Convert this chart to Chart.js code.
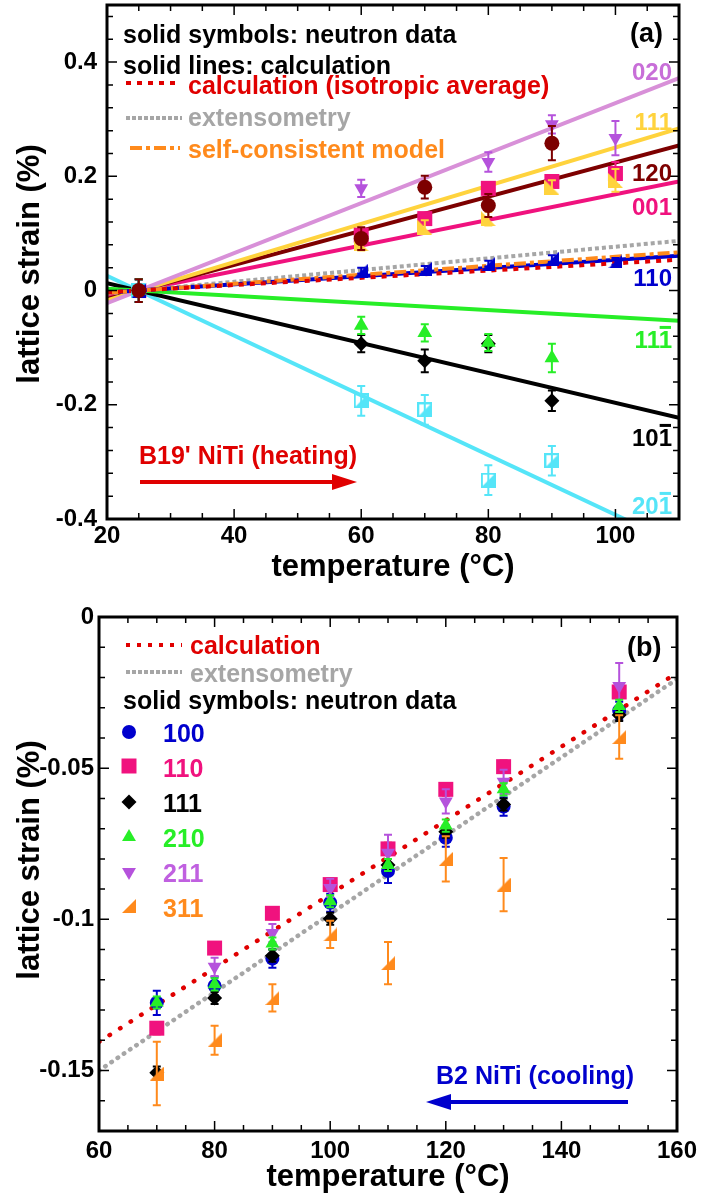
<!DOCTYPE html>
<html>
<head>
<meta charset="utf-8">
<title>NiTi lattice strain vs temperature</title>
<script src="https://cdn.jsdelivr.net/npm/chart.js@4.4.1/dist/chart.umd.min.js"></script>
<style>
  body { margin: 0; background: #fff; }
  canvas { display: block; }
</style>
</head>
<body>
<canvas id="heating-chart" width="701" height="590"></canvas>
<canvas id="cooling-chart" width="701" height="611"></canvas>
<script>
const FONT = '"Liberation Sans", Arial, Helvetica, sans-serif';

// ---------- (a) B19' NiTi, heating ----------
const tempA = [25, 60, 70, 80, 90, 100];
const fitTempA = [20, 110];
const tickXA = [20, 40, 60, 80, 100];
const tickYA = [-0.4, -0.2, 0, 0.2, 0.4];

// neutron data (strain %) and error bars, per reflection
const a020 = [0, 0.179, null, 0.225, 0.291, 0.267];
const a020err = [0.02, 0.015, null, 0.017, 0.016, 0.03];
const a111 = [0, 0.082, 0.111, 0.126, 0.181, 0.193];
const a111err = [0.02, 0.012, 0.012, 0.012, 0.012, 0.02];
const a120 = [0, 0.091, 0.181, 0.149, 0.258, null];
const a120err = [0.02, 0.02, 0.02, 0.02, 0.03, null];
const a001 = [0, 0.097, 0.126, 0.179, 0.191, 0.205];
const a001err = [0.02, 0.01, 0.01, 0.01, 0.01, 0.02];
const a110 = [0, 0.035, 0.038, 0.047, 0.056, 0.051];
const a110err = [0.02, 0.005, 0.005, 0.005, 0.006, 0.006];
const a11m = [0, -0.061, -0.074, -0.091, -0.118, null];
const a11merr = [0.02, 0.015, 0.015, 0.015, 0.025, null];
const a10m = [0, -0.093, -0.123, -0.093, -0.193, null];
const a10merr = [0.02, 0.015, 0.02, 0.015, 0.018, null];
const a20m = [0, -0.193, -0.209, -0.332, -0.298, null];
const a20merr = [0.02, 0.026, 0.026, 0.026, 0.026, null];

// calculated strains at 20 and 110 °C
const fit020 = [-0.022, 0.372];
const fit111 = [-0.017, 0.284];
const fit120 = [-0.015, 0.254];
const fit001 = [-0.011, 0.191];
const fit110 = [-0.0035, 0.061];
const fit11m = [0.003, -0.053];
const fit10m = [0.013, -0.223];
const fit20m = [0.026, -0.445];
const fitIso = [-0.003, 0.054];
const fitExtA = [-0.005, 0.087];
const fitSelf = [-0.004, 0.067];

// ---------- (b) B2 NiTi, cooling ----------
const tempB = [70, 80, 90, 100, 110, 120, 130, 150];
const fitTempB = [60, 160];
const tickXB = [60, 80, 100, 120, 140, 160];
const tickYB = [-0.15, -0.1, -0.05, 0];

const b100 = [-0.1276, -0.122, -0.113, -0.0945, -0.084, -0.073, -0.0627, -0.031];
const b100err = [0.004, 0.003, 0.003, 0.003, 0.004, 0.003, 0.003, 0.003];
const b110 = [-0.136, -0.1095, -0.098, -0.0885, -0.0767, -0.057, -0.0495, -0.0248];
const b110err = [0.002, 0.002, 0.002, 0.002, 0.002, 0.002, 0.002, 0.002];
const b111 = [-0.1507, -0.126, -0.112, -0.0998, -0.082, -0.071, -0.062, -0.0324];
const b111err = [0.002, 0.002, 0.002, 0.002, 0.002, 0.002, 0.002, 0.002];
const b210 = [-0.1275, -0.1215, -0.108, -0.094, -0.082, -0.069, -0.057, -0.0294];
const b210err = [0.002, 0.002, 0.002, 0.002, 0.002, 0.002, 0.002, 0.002];
const b211 = [null, -0.1157, -0.1045, -0.0896, -0.078, -0.061, -0.0545, -0.0228];
const b211err = [null, 0.003, 0.003, 0.003, 0.006, 0.004, 0.004, 0.0076];
const b311 = [-0.151, -0.140, -0.126, -0.105, -0.1145, -0.080, -0.0885, -0.0397];
const b311err = [0.0105, 0.0048, 0.0045, 0.0045, 0.007, 0.0075, 0.0088, 0.0072];

const fitCalcB = [-0.1405, -0.0185];
const fitExtB = [-0.150, -0.0205];

// ---------- colours ----------
const VIOLET = '#B552DC', PLUM = '#D890D8', GOLD = '#FFD33D', MAROON = '#7D0000';
const PINK = '#F0127E', BLUE = '#0000CD', GREEN = '#27EE27', CYAN = '#55E5F8';
const RED = '#E00000', GREY = '#A6A6A6', ORANGE = '#FF8A1C';

// half-filled markers drawn onto small canvases
function marker(kind, color, size) {
  const c = document.createElement('canvas');
  c.width = c.height = size;
  const g = c.getContext('2d');
  g.fillStyle = color;
  g.strokeStyle = color;
  g.beginPath();
  if (kind === 'wedgeLeft') {        // right angle bottom-left
    g.moveTo(0, 0); g.lineTo(0, size); g.lineTo(size, size);
  } else if (kind === 'wedgeRight') { // right angle bottom-right
    g.moveTo(size, 0); g.lineTo(size, size); g.lineTo(0, size);
  } else {                            // open square, lower-right half filled
    g.lineWidth = 2;
    g.strokeRect(1, 1, size - 2, size - 2);
    g.moveTo(size - 1, 1); g.lineTo(size - 1, size - 1); g.lineTo(1, size - 1);
  }
  g.closePath();
  g.fill();
  return c;
}

const ptsOf = (temps, ys, errs) => temps
  .map((t, i) => ({ x: t, y: ys[i], e: errs ? errs[i] : 0 }))
  .filter(p => p.y !== null);

function points(label, temps, ys, errs, style, color, radius, extra) {
  return Object.assign({
    label, data: ptsOf(temps, ys, errs),
    pointStyle: style, pointRadius: radius, pointHoverRadius: radius,
    backgroundColor: color, borderColor: color, pointBorderWidth: 0,
    errColor: color, order: 1
  }, extra);
}

function fitLine(label, temps, ys, color, width, dash, extra) {
  return Object.assign({
    label, showLine: true,
    data: temps.map((t, i) => ({ x: t, y: ys[i] })),
    borderColor: color, borderWidth: width, borderDash: dash || [],
    pointRadius: 0, order: 20
  }, extra);
}

// vertical error bars, drawn just under each dataset's own markers
const errorBars = {
  id: 'errorBars',
  beforeDatasetDraw(chart, args) {
    const ds = chart.data.datasets[args.index];
    if (!ds.errColor) return;
    const { ctx, scales: { y } } = chart;
    ctx.save();
    ctx.strokeStyle = ds.errColor;
    ctx.lineWidth = 2;
    ctx.beginPath();
    args.meta.data.forEach((pt, i) => {
      const d = ds.data[i];
      if (!d.e) return;
      const top = y.getPixelForValue(d.y + d.e);
      const bot = y.getPixelForValue(d.y - d.e);
      ctx.moveTo(pt.x, top); ctx.lineTo(pt.x, bot);
      ctx.moveTo(pt.x - 4, top); ctx.lineTo(pt.x + 4, top);
      ctx.moveTo(pt.x - 4, bot); ctx.lineTo(pt.x + 4, bot);
    });
    ctx.stroke();
    ctx.restore();
  }
};

// box frame with inward major/minor ticks on all four sides
const frame = {
  id: 'frame',
  afterDatasetsDraw(chart, args, o) {
    const { ctx, chartArea: a, scales: { x, y } } = chart;
    const isMajor = (v, step) => Math.abs(v / step - Math.round(v / step)) < 1e-6;
    ctx.save();
    ctx.strokeStyle = '#000';
    ctx.lineWidth = 1.5;
    ctx.beginPath();
    const nx = Math.round((x.max - x.min) / o.xMinor);
    for (let i = 0; i <= nx; i++) {
      const v = x.min + i * o.xMinor;
      const px = x.getPixelForValue(v);
      const len = isMajor(v, o.xMajor) ? 10 : 6;
      ctx.moveTo(px, a.bottom); ctx.lineTo(px, a.bottom - len);
      ctx.moveTo(px, a.top); ctx.lineTo(px, a.top + len);
    }
    const ny = Math.round((y.max - y.min) / o.yMinor);
    for (let i = 0; i <= ny; i++) {
      const v = y.min + i * o.yMinor;
      const py = y.getPixelForValue(v);
      const len = isMajor(v, o.yMajor) ? 10 : 6;
      ctx.moveTo(a.left, py); ctx.lineTo(a.left + len, py);
      ctx.moveTo(a.right, py); ctx.lineTo(a.right - len, py);
    }
    ctx.stroke();
    ctx.lineWidth = 3;
    ctx.strokeRect(a.left, a.top, a.right - a.left, a.bottom - a.top);
    ctx.restore();
  }
};

// titles, in-plot legends, reflection labels and arrows
const decor = {
  id: 'decor',
  afterDraw(chart, args, o) {
    const ctx = chart.ctx;
    ctx.save();
    ctx.textBaseline = 'alphabetic';
    (o.samples || []).forEach(s => {
      ctx.strokeStyle = s.color;
      ctx.lineWidth = s.width;
      ctx.lineCap = 'butt';
      ctx.setLineDash(s.dash);
      ctx.beginPath();
      ctx.moveTo(s.x0, s.y); ctx.lineTo(s.x1, s.y);
      ctx.stroke();
    });
    ctx.setLineDash([]);
    (o.markers || []).forEach(m => {
      ctx.fillStyle = m.color;
      Chart.helpers.drawPoint(ctx, {
        pointStyle: m.style, radius: m.radius, rotation: m.rotation || 0, borderWidth: 0
      }, m.x, m.y);
    });
    (o.texts || []).forEach(t => {
      ctx.font = `bold ${t.size}px ${FONT}`;
      ctx.fillStyle = t.color || '#000';
      ctx.textAlign = t.align || 'left';
      if (t.rotate) {
        ctx.save();
        ctx.translate(t.x, t.y);
        ctx.rotate(-Math.PI / 2);
        ctx.fillText(t.text, 0, 0);
        ctx.restore();
        return;
      }
      ctx.fillText(t.text, t.x, t.y);
      if (t.bar) {
        // overline on the last index
        const full = ctx.measureText(t.text).width;
        const last = ctx.measureText(t.text.slice(-1)).width;
        const right = t.align === 'right' ? t.x : t.x + full;
        ctx.fillRect(right - last + 1, t.y - t.size * 0.92, last - 2, 3);
      }
    });
    (o.arrows || []).forEach(r => {
      const dir = Math.sign(r.x1 - r.x0);
      ctx.strokeStyle = ctx.fillStyle = r.color;
      ctx.lineWidth = 4;
      ctx.beginPath();
      ctx.moveTo(r.x0, r.y); ctx.lineTo(r.x1 - dir * 20, r.y);
      ctx.stroke();
      ctx.beginPath();
      ctx.moveTo(r.x1, r.y);
      ctx.lineTo(r.x1 - dir * 25, r.y - 8);
      ctx.lineTo(r.x1 - dir * 25, r.y + 8);
      ctx.closePath();
      ctx.fill();
    });
    ctx.restore();
  }
};

const tickFont = { family: FONT, size: 24, weight: 'bold' };

function axes(d) {
  return {
    x: {
      type: 'linear', min: d.xMin, max: d.xMax,
      grid: { display: false, drawTicks: false }, border: { display: false },
      afterBuildTicks: s => { s.ticks = d.xTicks.map(v => ({ value: v })); },
      afterFit: s => { s.height = d.xh; s.paddingLeft = s.paddingRight = 0; },
      ticks: { padding: d.xPad, color: '#000', font: tickFont, maxRotation: 0, autoSkip: false,
               callback: v => String(v) }
    },
    y: {
      type: 'linear', min: d.yMin, max: d.yMax,
      grid: { display: false, drawTicks: false }, border: { display: false },
      afterBuildTicks: s => { s.ticks = d.yTicks.map(v => ({ value: v })); },
      afterFit: s => { s.width = d.yw; s.paddingTop = s.paddingBottom = 0; },
      ticks: { padding: d.yPad, color: '#000', font: tickFont, autoSkip: false,
               callback: v => String(v) }
    }
  };
}

// ---------- chart (a) ----------
new Chart(document.getElementById('heating-chart'), {
  type: 'scatter',
  data: {
    datasets: [
      fitLine('020 calc', fitTempA, fit020, PLUM, 4),
      fitLine('111 calc', fitTempA, fit111, GOLD, 4),
      fitLine('120 calc', fitTempA, fit120, MAROON, 4),
      fitLine('001 calc', fitTempA, fit001, PINK, 4),
      fitLine('11-1 calc', fitTempA, fit11m, GREEN, 4),
      fitLine('10-1 calc', fitTempA, fit10m, '#000', 4),
      fitLine('20-1 calc', fitTempA, fit20m, CYAN, 4),
      fitLine('extensometry', fitTempA, fitExtA, GREY, 4, [4, 3], { order: 15 }),
      fitLine('110 calc', fitTempA, fit110, BLUE, 4, [], { order: 14 }),
      fitLine('self-consistent model', fitTempA, fitSelf, ORANGE, 4, [12, 4, 4, 4], { order: 13 }),
      fitLine('calculation (isotropic average)', fitTempA, fitIso, RED, 4, [5, 6], { order: 12 }),
      points('001', tempA, a001, a001err, 'rect', PINK, 10.6, { order: 6 }),
      points('111', tempA, a111, a111err, marker('wedgeLeft', GOLD, 15), GOLD, 8, { order: 5 }),
      points('020', tempA, a020, a020err, 'triangle', VIOLET, 8, { order: 4, pointRotation: 180 }),
      points('110', tempA, a110, a110err, marker('wedgeRight', BLUE, 14), BLUE, 8, { order: 3 }),
      points('10-1', tempA, a10m, a10merr, 'rectRot', '#000', 7.5, { order: 3 }),
      points('20-1', tempA, a20m, a20merr, marker('halfSquare', CYAN, 15), CYAN, 8, { order: 3 }),
      points('11-1', tempA, a11m, a11merr, 'triangle', GREEN, 8.5, { order: 2 }),
      points('120', tempA, a120, a120err, 'circle', MAROON, 7.5, { order: 0 })
    ]
  },
  options: {
    responsive: false,
    animation: false,
    events: [],
    layout: { autoPadding: false, padding: { top: 5, right: 22, left: 0, bottom: 0 } },
    scales: axes({ xMin: 20, xMax: 110, xTicks: tickXA, xh: 71, xPad: 3,
                   yMin: -0.4, yMax: 0.5, yTicks: tickYA, yw: 107, yPad: 10 }),
    plugins: {
      legend: { display: false },
      tooltip: { enabled: false },
      frame: { xMinor: 5, xMajor: 20, yMinor: 0.04, yMajor: 0.2 },
      decor: {
        samples: [
          { x0: 126, x1: 180, y: 83, color: RED, width: 4, dash: [5, 6] },
          { x0: 126, x1: 182, y: 118, color: GREY, width: 4, dash: [4, 2] },
          { x0: 130, x1: 180, y: 148, color: ORANGE, width: 4, dash: [12, 4, 4, 4] }
        ],
        texts: [
          { text: 'solid symbols: neutron data', x: 123, y: 43, size: 25 },
          { text: 'solid lines: calculation', x: 123, y: 74, size: 25 },
          { text: 'calculation (isotropic average)', x: 188, y: 94, size: 25, color: RED },
          { text: 'extensometry', x: 188, y: 126, size: 25, color: GREY },
          { text: 'self-consistent model', x: 188, y: 158, size: 25, color: ORANGE },
          { text: '(a)', x: 630, y: 42, size: 27 },
          { text: '020', x: 672, y: 80, size: 24, align: 'right', color: '#C86ED8' },
          { text: '111', x: 672, y: 130, size: 24, align: 'right', color: GOLD },
          { text: '120', x: 672, y: 181, size: 24, align: 'right', color: MAROON },
          { text: '001', x: 672, y: 215, size: 24, align: 'right', color: PINK },
          { text: '110', x: 672, y: 286, size: 24, align: 'right', color: BLUE },
          { text: '111', x: 672, y: 348, size: 24, align: 'right', color: GREEN, bar: true },
          { text: '101', x: 672, y: 446, size: 24, align: 'right', color: '#000', bar: true },
          { text: '201', x: 672, y: 514, size: 24, align: 'right', color: CYAN, bar: true },
          { text: "B19' NiTi (heating)", x: 139, y: 464, size: 25, color: RED },
          { text: 'temperature (°C)', x: 393, y: 576, size: 31, align: 'center' },
          { text: 'lattice strain (%)', x: 39, y: 264, size: 31, align: 'center', rotate: true }
        ],
        arrows: [{ x0: 140, x1: 357, y: 482, color: RED }]
      }
    }
  },
  plugins: [errorBars, frame, decor]
});

// ---------- chart (b) ----------
const wedge311 = marker('wedgeRight', ORANGE, 14);

new Chart(document.getElementById('cooling-chart'), {
  type: 'scatter',
  data: {
    datasets: [
      fitLine('calculation', fitTempB, fitCalcB, RED, 4.5, [0.5, 12], { borderCapStyle: 'round' }),
      fitLine('extensometry', fitTempB, fitExtB, GREY, 4.5, [0.5, 7], { borderCapStyle: 'round' }),
      points('100', tempB, b100, b100err, 'circle', BLUE, 7, { order: 6 }),
      points('110', tempB, b110, b110err, 'rect', PINK, 10.6, { order: 5, errColor: RED }),
      points('111', tempB, b111, b111err, 'rectRot', '#000', 7.5, { order: 4 }),
      points('211', tempB, b211, b211err, 'triangle', VIOLET, 8, { order: 3, pointRotation: 180 }),
      points('210', tempB, b210, b210err, 'triangle', GREEN, 8, { order: 2 }),
      points('311', tempB, b311, b311err, wedge311, ORANGE, 8, { order: 1 })
    ]
  },
  options: {
    responsive: false,
    animation: false,
    events: [],
    layout: { autoPadding: false, padding: { top: 27, right: 24, left: 0, bottom: 0 } },
    scales: axes({ xMin: 60, xMax: 160, xTicks: tickXB, xh: 70, xPad: 6,
                   yMin: -0.17, yMax: 0, yTicks: tickYB, yw: 99, yPad: 5 }),
    plugins: {
      legend: { display: false },
      tooltip: { enabled: false },
      frame: { xMinor: 5, xMajor: 20, yMinor: 0.01, yMajor: 0.05 },
      decor: {
        samples: [
          { x0: 126, x1: 182, y: 55, color: RED, width: 4, dash: [4, 7] },
          { x0: 126, x1: 182, y: 82, color: GREY, width: 4, dash: [4, 2] }
        ],
        markers: [
          { x: 129, y: 142, style: 'circle', radius: 7, color: BLUE },
          { x: 129, y: 176, style: 'rect', radius: 10.6, color: PINK },
          { x: 129, y: 212, style: 'rectRot', radius: 7.5, color: '#000' },
          { x: 129, y: 247, style: 'triangle', radius: 8, color: GREEN },
          { x: 129, y: 282, style: 'triangle', radius: 8, rotation: 180, color: VIOLET },
          { x: 129, y: 316, style: wedge311, radius: 8, color: ORANGE }
        ],
        texts: [
          { text: 'calculation', x: 190, y: 64, size: 25, color: RED },
          { text: 'extensometry', x: 190, y: 92, size: 25, color: GREY },
          { text: 'solid symbols: neutron data', x: 123, y: 119, size: 25 },
          { text: '100', x: 163, y: 152, size: 25, color: BLUE },
          { text: '110', x: 163, y: 187, size: 25, color: PINK },
          { text: '111', x: 163, y: 222, size: 25, color: '#000' },
          { text: '210', x: 163, y: 257, size: 25, color: GREEN },
          { text: '211', x: 163, y: 292, size: 25, color: '#C060E0' },
          { text: '311', x: 163, y: 327, size: 25, color: ORANGE },
          { text: '(b)', x: 627, y: 66, size: 27 },
          { text: 'B2 NiTi (cooling)', x: 436, y: 494, size: 25, color: BLUE },
          { text: 'temperature (°C)', x: 388, y: 596, size: 31, align: 'center' },
          { text: 'lattice strain (%)', x: 39, y: 270, size: 31, align: 'center', rotate: true }
        ],
        arrows: [{ x0: 628, x1: 426, y: 512, color: BLUE }]
      }
    }
  },
  plugins: [errorBars, frame, decor]
});
</script>
</body>
</html>
